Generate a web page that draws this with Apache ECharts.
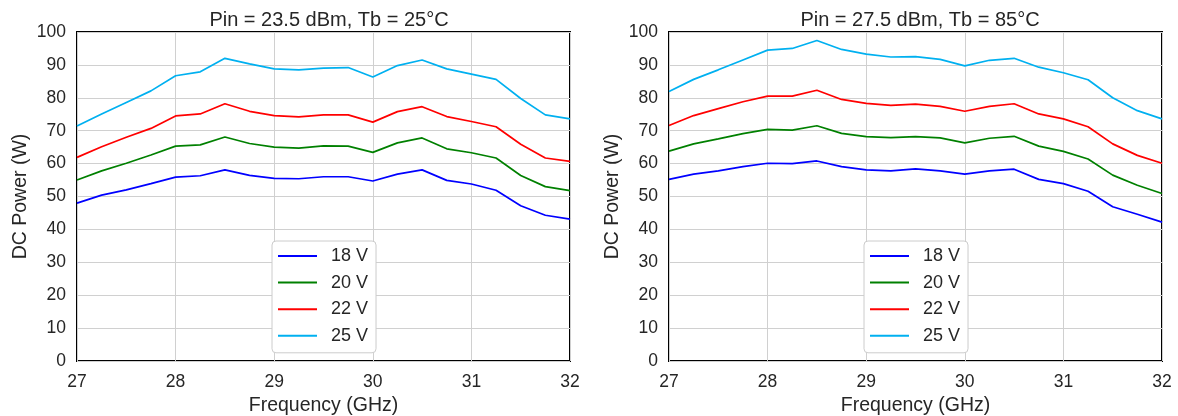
<!DOCTYPE html>
<html><head><meta charset="utf-8">
<script src="https://cdn.jsdelivr.net/npm/echarts@6/dist/echarts.min.js"></script>
<style>html,body{margin:0;padding:0;background:#fff}#c{width:1178px;height:416px}</style>
</head><body><div id="c"></div>
<script>
const freq = [27,27.25,27.5,27.75,28,28.25,28.5,28.75,29,29.25,29.5,29.75,30,30.25,30.5,30.75,31,31.25,31.5,31.75,32];
const seriesNames = ['18 V','20 V','22 V','25 V'];
const colors = ['#0000ff','#008000','#ff0000','#00b0f0'];
const titles = ['Pin = 23.5 dBm, Tb = 25°C','Pin = 27.5 dBm, Tb = 85°C'];
const xTicks = [27,28,29,30,31,32];
const yTicks = [0,10,20,30,40,50,60,70,80,90,100];
// Left panel (Pin = 23.5 dBm, Tb = 25°C)
const left18 = [48.0,50.4,52.0,53.9,55.9,56.3,58.1,56.4,55.5,55.4,56.0,56.0,54.7,56.8,58.1,54.9,53.8,51.9,47.2,44.3,43.1];
const left20 = [55.0,57.8,60.1,62.6,65.3,65.7,68.1,66.1,65.0,64.7,65.4,65.3,63.4,66.3,67.8,64.5,63.3,61.7,56.4,53.0,51.8];
const left22 = [61.9,65.1,68.0,70.7,74.5,75.1,78.2,75.9,74.6,74.2,74.8,74.8,72.6,75.8,77.3,74.3,72.8,71.2,65.9,61.7,60.7];
const left25 = [71.4,75.1,78.6,82.1,86.7,87.9,92.0,90.3,88.8,88.5,89.0,89.2,86.3,89.8,91.5,88.8,87.2,85.6,79.8,74.8,73.6];
// Right panel (Pin = 27.5 dBm, Tb = 85°C)
const right18 = [55.2,56.8,57.8,59.1,60.1,60.0,60.8,59.1,58.1,57.8,58.4,57.8,56.8,57.8,58.3,55.2,53.9,51.6,46.9,44.6,42.2];
const right20 = [63.8,66.0,67.5,69.1,70.4,70.2,71.5,69.2,68.2,67.9,68.2,67.8,66.3,67.7,68.3,65.3,63.7,61.4,56.5,53.4,50.9];
const right22 = [71.6,74.6,76.7,78.8,80.5,80.5,82.3,79.5,78.3,77.7,78.1,77.4,75.9,77.4,78.2,75.1,73.6,71.2,66.0,62.5,60.1];
const right25 = [81.9,85.6,88.5,91.5,94.5,95.0,97.4,94.7,93.3,92.4,92.5,91.7,89.7,91.4,92.0,89.3,87.6,85.5,80.0,76.1,73.6];

const panels = [[left18,left20,left22,left25],[right18,right20,right22,right25]];
const FONT = '"Liberation Sans", Arial, sans-serif';
const TXT = '#262626';
const grids = [
  {left:77, right:608, top:32, bottom:55},
  {left:669, right:16, top:32, bottom:55}
];
const chart = echarts.init(document.getElementById('c'), null, {renderer:'canvas'});
const option = {
  animation:false,
  textStyle:{fontFamily:FONT},
  title: titles.map((t,i)=>({
    text:t, left: i===0 ? 324 : 915, top:5, textAlign:'center',
    textStyle:{fontFamily:FONT, fontSize:20, fontWeight:'normal', color:TXT}
  })),
  grid: grids.map(g=>Object.assign({show:true, borderColor:'#000', borderWidth:2, backgroundColor:'transparent', containLabel:false, outerBoundsMode:'none'}, g)),
  legend: [0,1].map(i=>({
    data: seriesNames.map(n=>({name:n, icon:'rect'})), orient:'vertical',
    left: i===0 ? 272 : 864, top: 241,
    itemWidth:39, itemHeight:2, itemGap:8.6,
    padding:[6,8,8,6],
    borderColor:'#cccccc', borderWidth:1, borderRadius:4, backgroundColor:'#fff',
    textStyle:{fontFamily:FONT, fontSize:18, color:TXT, padding:[0,0,0,9]},
    selectedMode:false
  })),
  xAxis: [0,1].map(i=>({
    type:'value', gridIndex:i, min:27, max:32, interval:1,
    name:'Frequency (GHz)', nameLocation:'middle', nameGap:31,
    nameTextStyle:{fontFamily:FONT, fontSize:19.5, color:TXT},
    axisLine:{show:false}, axisTick:{show:false},
    axisLabel:{fontFamily:FONT, fontSize:17.5, color:TXT, margin:12, formatter:v=>xTicks.includes(v)?String(v):''},
    splitLine:{show:true, lineStyle:{color:'#d0d0d0', width:1}}
  })),
  yAxis: [0,1].map(i=>({
    type:'value', gridIndex:i, min:0, max:100, interval:10,
    name:'DC Power (W)', nameLocation:'middle', nameGap:46,
    nameTextStyle:{fontFamily:FONT, fontSize:19.5, color:TXT},
    axisLine:{show:false}, axisTick:{show:false},
    axisLabel:{fontFamily:FONT, fontSize:17.5, color:TXT, margin:11, formatter:v=>yTicks.includes(v)?String(v):''},
    splitLine:{show:true, lineStyle:{color:'#d0d0d0', width:1}}
  })),
  series: []
};
panels.forEach((p,i)=>{
  p.forEach((vals,k)=>{
    option.series.push({
      type:'line', name:seriesNames[k], xAxisIndex:i, yAxisIndex:i,
      data: freq.map((f,j)=>[f, vals[j]]),
      showSymbol:false, symbol:'none',
      lineStyle:{color:colors[k], width:1.7}, itemStyle:{color:colors[k]},
      z: 2
    });
  });
});
chart.setOption(option);
</script></body></html>
